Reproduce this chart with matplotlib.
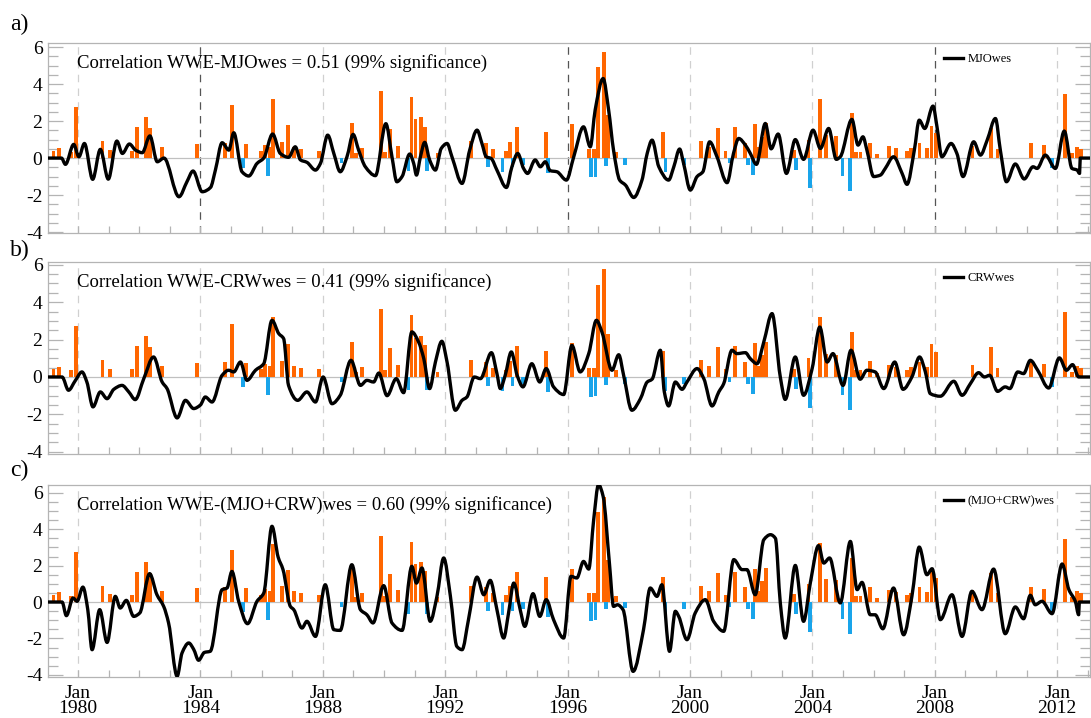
import matplotlib
matplotlib.use("Agg")
import matplotlib.pyplot as plt
from matplotlib.ticker import MultipleLocator, FixedLocator
from matplotlib.path import Path
from matplotlib.patches import PathPatch
from matplotlib.lines import Line2D

# ---------------- data ----------------
# WWE bars (decimal year, value)
wwe_t = [1979.20, 1979.38, 1979.76, 1979.93, 1980.80, 1981.04, 1981.76, 1981.94, 1982.23, 1982.36,
         1982.75, 1983.90, 1984.80, 1985.02, 1985.38, 1985.49, 1985.97, 1986.11, 1986.20, 1986.28,
         1986.38, 1986.68, 1986.87, 1987.07, 1987.28, 1987.88, 1988.61, 1988.96, 1989.08, 1989.29,
         1989.91, 1990.04, 1990.19, 1990.47, 1990.80, 1990.90, 1991.03, 1991.20, 1991.33, 1991.40,
         1991.75, 1992.83, 1993.32, 1993.41, 1993.57, 1993.87, 1993.98, 1994.11, 1994.20, 1994.35,
         1994.55, 1995.28, 1995.37, 1996.15, 1996.70, 1996.77, 1996.86, 1996.91, 1996.98, 1997.19,
         1997.26, 1997.33, 1997.59, 1997.88, 1999.12, 1999.20, 1999.79, 2000.35, 2000.62, 2000.92,
         2001.16, 2001.29, 2001.47, 2001.80, 2001.90, 2002.06, 2002.13, 2002.24, 2002.36, 2002.47,
         2003.40, 2003.47, 2003.87, 2003.92, 2004.26, 2004.44, 2004.77, 2004.98, 2005.22, 2005.28,
         2005.42, 2005.57, 2005.87, 2006.12, 2006.50, 2006.74, 2007.08, 2007.21, 2007.50, 2007.75,
         2007.89, 2008.03, 2009.23, 2009.83, 2010.05, 2011.13, 2011.57, 2011.82, 2012.24, 2012.47,
         2012.65, 2012.77]
wwe_v = [0.40, 0.54, 0.35, 2.74, 0.90, 0.43, 0.40, 1.66, 2.20, 1.60,
         0.60, 0.76, 0.80, 2.86, -0.56, 0.76, 0.40, 0.70, -0.97, 0.60,
         3.20, 0.88, 1.78, 0.60, 0.47, 0.40, -0.25, 1.87, 0.25, 0.52,
         3.64, 0.35, 1.55, 0.65, -0.68, 3.30, 2.10, 2.20, 1.70, -0.68,
         0.25, 0.90, 0.80, -0.47, 0.47, -0.74, 0.38, 0.86, -0.47, 1.66,
         -0.40, 1.39, -0.80, 1.84, 0.47, -1.05, 0.47, -1.00, 4.94, 5.75,
         -0.41, 2.32, 0.35, -0.35, 1.39, -0.74, -0.38, 0.90, 0.60, 1.60,
         0.40, -0.29, 1.66, 0.80, -0.38, -0.92, 1.84, 0.60, 1.15, 1.87,
         0.43, -0.65, 1.00, -1.64, 3.22, 1.24, 1.19, -0.95, -1.77, 2.41,
         0.35, 0.35, 0.83, 0.22, 0.65, 0.56, 0.38, 0.52, 0.80, 0.56,
         1.75, 1.33, 0.65, 1.60, 0.47, 0.80, 0.70, -0.56, 3.46, 0.29,
         0.60, 0.47]

# MJOwes (panel a)
mjo_t = [1979.02, 1979.46, 1979.59, 1979.86, 1980.03, 1980.21, 1980.48, 1980.73,
         1980.99, 1981.27, 1981.45, 1981.68, 1981.88, 1982.10,
         1982.35, 1982.59, 1982.81, 1983.30, 1983.56, 1983.76, 1984.06, 1984.33, 1984.49,
         1984.71, 1984.93, 1985.09, 1985.36, 1985.58, 1985.85, 1986.07, 1986.36, 1986.61,
         1986.88, 1987.10, 1987.27, 1987.48, 1987.76, 1987.92, 1988.16, 1988.36, 1988.57, 1988.79,
         1988.99, 1989.17, 1989.39, 1989.72, 1990.06, 1990.26, 1990.42, 1990.59, 1990.84, 1990.97,
         1991.06, 1991.19, 1991.33, 1991.49, 1991.68, 1991.87, 1992.06, 1992.22, 1992.55, 1992.80,
         1993.04, 1993.20, 1993.34, 1993.50, 1993.69, 1994.00, 1994.18, 1994.37, 1994.56, 1994.69,
         1994.94, 1995.11, 1995.27, 1995.43, 1995.65, 1995.96, 1996.20, 1996.52, 1996.74, 1996.90,
         1997.16, 1997.34, 1997.50, 1997.70, 1997.89, 1998.16, 1998.43, 1998.60, 1998.76, 1998.98,
         1999.30, 1999.47, 1999.66, 1999.79, 2000.01, 2000.23, 2000.42, 2000.64, 2000.88, 2001.21,
         2001.42, 2001.59, 2001.81, 2001.97, 2002.17, 2002.46, 2002.65, 2002.88, 2003.15, 2003.44,
         2003.71, 2004.02, 2004.26, 2004.53, 2004.78, 2004.91, 2005.29, 2005.49, 2005.65, 2005.78,
         2006.00, 2006.22, 2006.38, 2006.65, 2006.93, 2007.09, 2007.33, 2007.49, 2007.67, 2007.94,
         2008.07, 2008.23, 2008.53, 2008.72, 2008.92, 2009.27, 2009.49, 2009.71, 2009.98, 2010.14,
         2010.34, 2010.63, 2010.92, 2011.21, 2011.34, 2011.61, 2011.94, 2012.23, 2012.48, 2012.65,
         2012.73, 2012.75, 2013.07]
mjo_v = [0.00, 0.00, -0.34, 0.74, 0.07, 0.79, -1.15, 0.47,
         -1.14, 0.92, 0.25, 0.76, 0.43, 0.29,
         1.20, -0.20, 0.00, -2.09, -1.28, -0.70, -1.82, -1.59, -0.65,
         0.83, 0.43, 1.37, -0.74, -0.97, -0.29, 0.00, 1.30, 0.25,
         0.04, 0.61, -0.10, -0.23, -0.65, -0.30, 1.24, 0.25, -0.74, 0.07,
         1.28, 0.43, -0.47, -0.95, 1.86, 0.07, -1.28, -1.00, 0.22, -0.29,
         -0.92, 0.07, 0.85, -0.10, -0.65, 0.52, 0.79, 0.07, -1.37, 0.43,
         1.51, 0.79, 0.07, -0.02, -0.65, -1.59, -0.47, 0.25, -0.56, -0.83,
         -0.10, -0.47, -0.20, -0.68, -0.74, -1.19, 0.07, 1.69, 0.61, 2.60,
         4.30, 2.60, 0.43, -1.19, -1.46, -2.13, -1.19, 0.25, 0.97, -0.47,
         -1.19, -0.47, 0.49, -0.29, -1.73, -1.00, -0.74, 0.88, 0.07, -1.33,
         0.25, 1.06, 0.70, 0.25, -0.34, 1.87, 0.50, 1.30, -0.83, 1.00,
         -0.07, 1.51, 0.52, 1.60, -0.07, 0.07, 2.09, 0.70, 1.15, 0.43,
         -1.00, -0.92, -0.56, 0.07, -0.83, -1.42, 0.43, 2.05, 1.60, 2.81,
         1.69, 0.07, 0.79, 0.25, -1.00, 0.88, 0.16, 0.97, 2.14, 0.43,
         -1.28, -0.32, -1.13, -0.47, -0.56, 0.16, -0.56, 1.46, -0.56, -0.65,
         -0.83, 0.00, 0.00]

# CRWwes (panel b)
crw_t = [1979.02, 1979.48, 1979.69, 1979.91, 1980.13, 1980.29, 1980.49, 1980.73, 1980.95, 1981.17,
         1981.44, 1981.66, 1981.87, 1982.15, 1982.47, 1982.75, 1982.91, 1983.24, 1983.51, 1983.78,
         1984.00, 1984.16, 1984.38, 1984.71, 1984.92, 1985.09, 1985.31, 1985.52, 1985.80, 1986.07,
         1986.34, 1986.56, 1986.72, 1986.88, 1987.18, 1987.48, 1987.76, 1988.01, 1988.30, 1988.57,
         1988.92, 1989.23, 1989.44, 1989.66, 1989.83, 1990.10, 1990.40, 1990.64, 1990.91, 1991.13,
         1991.30, 1991.49, 1991.68, 1991.89, 1992.06, 1992.33, 1992.55, 1992.71, 1992.95, 1993.15,
         1993.51, 1993.69, 1993.80, 1993.96, 1994.16, 1994.35, 1994.54, 1994.83, 1995.09, 1995.30,
         1995.54, 1995.87, 1996.14, 1996.41, 1996.69, 1996.94, 1997.12, 1997.45, 1997.67, 1997.83,
         1998.10, 1998.38, 1998.60, 1998.76, 1999.03, 1999.16, 1999.30, 1999.52, 1999.74, 1999.90,
         2000.23, 2000.45, 2000.72, 2000.94, 2001.10, 2001.37, 2001.53, 2001.81, 2001.97, 2002.19,
         2002.41, 2002.68, 2002.95, 2003.11, 2003.44, 2003.71, 2003.99, 2004.24, 2004.48, 2004.67,
         2005.00, 2005.26, 2005.56, 2005.78, 2006.05, 2006.33, 2006.69, 2006.96, 2007.25, 2007.50,
         2007.69, 2007.85, 2008.18, 2008.62, 2008.89, 2009.16, 2009.43, 2009.62, 2009.79, 2010.05,
         2010.30, 2010.45, 2010.71, 2010.90, 2011.12, 2011.36, 2011.72, 2012.07, 2012.30, 2012.50,
         2012.70, 2013.07]
crw_v = [0.00, 0.00, -0.71, -0.20, 0.27, -0.27, -1.60, -0.80, -1.16, -0.66,
         -0.45, -0.80, -1.21, -0.09, 1.07, -0.27, -0.62, -2.19, -1.25, -1.69,
         -1.50, -1.07, -1.34, 0.09, 0.36, 0.27, 0.80, -0.18, 0.36, 0.71,
         3.03, 2.32, 2.05, -0.45, -1.25, -0.80, -1.34, 0.00, -1.43, -0.98,
         0.89, -0.45, -0.18, -0.27, 0.21, -1.00, -0.09, -0.84, 2.41, 1.87,
         0.98, -0.62, 0.80, 1.91, 0.80, -1.78, -1.25, -1.07, 0.00, -0.09,
         1.30, 0.18, -0.62, 0.09, 1.34, 0.09, -0.53, 0.71, -0.27, 0.45,
         -0.53, -0.94, 1.69, 0.27, 1.25, 3.03, 2.41, 0.36, 1.19, 0.09,
         -1.78, -1.16, -0.27, -0.12, 1.43, -0.80, -1.55, -0.27, -0.66, -0.27,
         0.45, -0.09, -1.55, -0.80, -0.36, 1.43, 1.25, 1.30, 0.98, 0.71,
         1.87, 3.39, 0.00, -1.20, 1.07, -0.98, 0.45, 2.67, 0.80, 1.25,
         -0.45, 1.43, -0.12, 0.36, 0.27, -0.62, 0.80, -0.66, 0.00, 1.07,
         0.27, -0.89, -1.03, -0.23, -0.98, -0.36, 0.23, 0.00, 0.09, -0.77,
         -0.53, -0.62, 0.27, 0.18, 0.89, 0.36, -0.59, 1.02, 0.36, 0.66,
         0.00, 0.00]

# (MJO+CRW)wes (panel c)
sum_t = [1979.02, 1979.48, 1979.62, 1979.84, 1979.97, 1980.16, 1980.32, 1980.46, 1980.71, 1980.95,
         1981.22, 1981.38, 1981.58, 1981.82, 1982.02, 1982.34, 1982.58, 1982.80, 1982.96, 1983.24,
         1983.40, 1983.62, 1983.78, 1983.94, 1984.13, 1984.32, 1984.71, 1984.87, 1985.03, 1985.25,
         1985.54, 1985.85, 1986.07, 1986.34, 1986.54, 1986.70, 1986.94, 1987.05, 1987.32, 1987.48,
         1987.76, 1988.08, 1988.36, 1988.57, 1988.95, 1989.23, 1989.44, 1989.64, 1989.99, 1990.26,
         1990.59, 1990.91, 1991.06, 1991.24, 1991.51, 1991.73, 1991.95, 1992.17, 1992.38, 1992.55,
         1992.76, 1993.04, 1993.26, 1993.47, 1993.69, 1993.91, 1994.07, 1994.24, 1994.45, 1994.60,
         1994.87, 1995.09, 1995.30, 1995.54, 1995.87, 1996.11, 1996.30, 1996.52, 1996.69, 1996.85,
         1997.01, 1997.16, 1997.37, 1997.50, 1997.63, 1997.81, 1998.14, 1998.48, 1998.70, 1998.92,
         1999.08, 1999.33, 1999.52, 1999.63, 1999.90, 2000.17, 2000.50, 2000.77, 2001.10, 2001.43,
         2001.70, 2001.86, 2002.13, 2002.41, 2002.63, 2002.79, 2002.95, 2003.11, 2003.44, 2003.71,
         2003.93, 2004.20, 2004.37, 2004.56, 2004.91, 2005.24, 2005.46, 2005.62, 2005.89, 2006.05,
         2006.30, 2006.65, 2006.98, 2007.25, 2007.49, 2007.74, 2007.91, 2008.18, 2008.56, 2008.89,
         2009.21, 2009.54, 2009.92, 2010.30, 2010.63, 2010.90, 2011.12, 2011.28, 2011.50, 2011.83,
         2012.16, 2012.38, 2012.59, 2012.70, 2012.72, 2013.07]
sum_v = [0.00, 0.00, -0.75, 0.22, 0.04, 0.82, -0.42, -2.62, -0.42, -2.22,
         0.31, -0.33, 0.09, -0.79, -0.60, 1.56, 0.40, -0.24, -1.15, -4.08,
         -2.80, -2.25, -2.60, -3.20, -2.77, -2.71, 0.68, 0.77, 1.68, 0.04,
         -1.19, 0.04, 0.49, 4.16, 2.47, 1.78, -0.24, -0.42, -1.43, -1.06,
         -1.89, 0.95, -1.52, -1.56, 2.05, -0.42, -0.70, -1.15, 0.90, -1.15,
         -1.56, 1.96, 1.04, 1.87, -1.06, 0.31, 2.42, 0.31, -2.44, -2.62,
         -0.97, 1.37, 0.40, 1.19, -0.42, -1.98, -0.60, 1.04, -0.42, -1.34,
         0.46, -0.79, 0.13, -0.97, -1.98, 1.41, 1.32, 2.23, 1.81, 4.50,
         6.45, 5.81, 2.05, -0.24, -0.15, -0.42, -3.81, -1.52, 0.77, 0.31,
         0.95, -2.71, -0.51, -0.79, -2.07, -0.60, 0.13, -1.06, -1.61, 2.33,
         1.78, 1.78, 0.40, 3.42, 3.70, 3.50, -0.05, -1.98, 2.01, -1.06,
         1.04, 3.10, 2.14, 2.42, -0.05, 3.33, 0.68, 1.08, -0.70, -0.70,
         -1.47, 0.77, -1.80, 0.31, 3.02, 1.50, 1.83, -0.97, 0.40, -1.89,
         0.59, -0.42, 1.81, -1.74, -0.27, -0.92, 0.37, -0.15, 0.04, -0.64,
         2.09, 0.68, 0.04, -0.70, 0.00, 0.00]

panel_labels = ["a)", "b)", "c)"]
corr_texts = ["Correlation WWE-MJOwes = 0.51 (99% significance)",
              "Correlation WWE-CRWwes = 0.41 (99% significance)",
              "Correlation WWE-(MJO+CRW)wes = 0.60 (99% significance)"]
legend_names = ["MJOwes", "CRWwes", "(MJO+CRW)wes"]
year_ticks = [1980, 1984, 1988, 1992, 1996, 2000, 2004, 2008, 2012]
dark_years_a = [1984, 1996, 2008]


def smooth_path(t, v):
    """Smooth (shape-preserving cubic) Bezier path passing through the data points."""
    n = len(t)
    h = [t[k + 1] - t[k] for k in range(n - 1)]
    d = [(v[k + 1] - v[k]) / h[k] if h[k] != 0 else 0.0 for k in range(n - 1)]
    m = [0.0] * n
    m[0], m[-1] = d[0], d[-1]
    for k in range(1, n - 1):
        if d[k - 1] * d[k] <= 0:
            m[k] = 0.0
        else:
            w1 = 2 * h[k] + h[k - 1]
            w2 = h[k] + 2 * h[k - 1]
            m[k] = (w1 + w2) / (w1 / d[k - 1] + w2 / d[k])
    verts = [(t[0], v[0])]
    codes = [Path.MOVETO]
    for k in range(n - 1):
        hk = h[k]
        verts += [(t[k] + hk / 3, v[k] + m[k] * hk / 3),
                  (t[k + 1] - hk / 3, v[k + 1] - m[k + 1] * hk / 3),
                  (t[k + 1], v[k + 1])]
        codes += [Path.CURVE4] * 3
    return Path(verts, codes)


# ---------------- style ----------------
FONT = ["Liberation Serif", "DejaVu Serif"]
plt.rcParams["font.family"] = FONT
ORANGE = "#ff6600"
BLUE = "#19a4ea"
SPINE = "#b4b4b4"

W, H = 1091, 718
fig = plt.figure(figsize=(W / 100, H / 100), dpi=100)

boxes = [(43, 233), (262, 454), (485, 677)]
ylims = [(-4.05, 6.22), (-4.12, 6.15), (-4.12, 6.43)]
x0, x1 = 48, 1090
curves_t = [mjo_t, crw_t, sum_t]
curves_v = [mjo_v, crw_v, sum_v]
label_y = [24, 250, 470]

for i in range(3):
    top, bot = boxes[i]
    ax = fig.add_axes([x0 / W, 1 - bot / H, (x1 - x0) / W, (bot - top) / H])
    ax.set_xlim(1979.02, 2013.07)
    ax.set_ylim(*ylims[i])

    for yr in year_ticks:
        dark = (i == 0 and yr in dark_years_a)
        ax.axvline(yr, color="#555555" if dark else "#d0d0d0", lw=0.9,
                   dashes=(6, 5), zorder=1)
    ax.axhline(0, color="#c0c0c0", lw=0.9, zorder=1)

    colors = [ORANGE if v > 0 else BLUE for v in wwe_v]
    ax.bar(wwe_t, wwe_v, width=0.125, color=colors, linewidth=0, zorder=2)

    patch = PathPatch(smooth_path(curves_t[i], curves_v[i]), facecolor="none",
                      edgecolor="black", lw=2.4, zorder=3, capstyle="round",
                      joinstyle="round")
    ax.add_patch(patch)

    ax.set_yticks([-4, -2, 0, 2, 4, 6])
    ax.set_yticklabels(["-4", "-2", "0", "2", "4", "6"])
    ax.yaxis.set_minor_locator(MultipleLocator(0.5))
    ax.tick_params(axis="y", which="both", direction="in", left=True, right=True,
                   color=SPINE, width=0.9)
    ax.tick_params(axis="y", which="major", length=11, labelsize=14, pad=4)
    ax.tick_params(axis="y", which="minor", length=7)
    ax.xaxis.set_major_locator(FixedLocator(year_ticks))
    ax.xaxis.set_minor_locator(MultipleLocator(1))
    ax.tick_params(axis="x", which="both", direction="in", bottom=True, top=False,
                   color=SPINE, width=0.9, length=5)
    if i == 2:
        ax.set_xticklabels(["Jan\n%d" % y for y in year_ticks], fontsize=14,
                           linespacing=0.85)
        ax.tick_params(axis="x", which="major", pad=6)
    else:
        ax.set_xticklabels([])
    for s in ax.spines.values():
        s.set_color(SPINE)
        s.set_linewidth(0.9)

    ax.text(0.028, 0.895, corr_texts[i], transform=ax.transAxes, fontsize=13.5,
            va="center", ha="left")
    handle = Line2D([], [], color="black", lw=2.4)
    ax.legend([handle], [legend_names[i]], loc="center left",
              bbox_to_anchor=(0.855, 0.915), frameon=False,
              fontsize=9, handlelength=1.5, handletextpad=0.4, borderaxespad=0)
    fig.text(10 / W, 1 - label_y[i] / H, panel_labels[i], fontsize=17,
             va="center", ha="left")

fig.savefig("out.png", dpi=100)
